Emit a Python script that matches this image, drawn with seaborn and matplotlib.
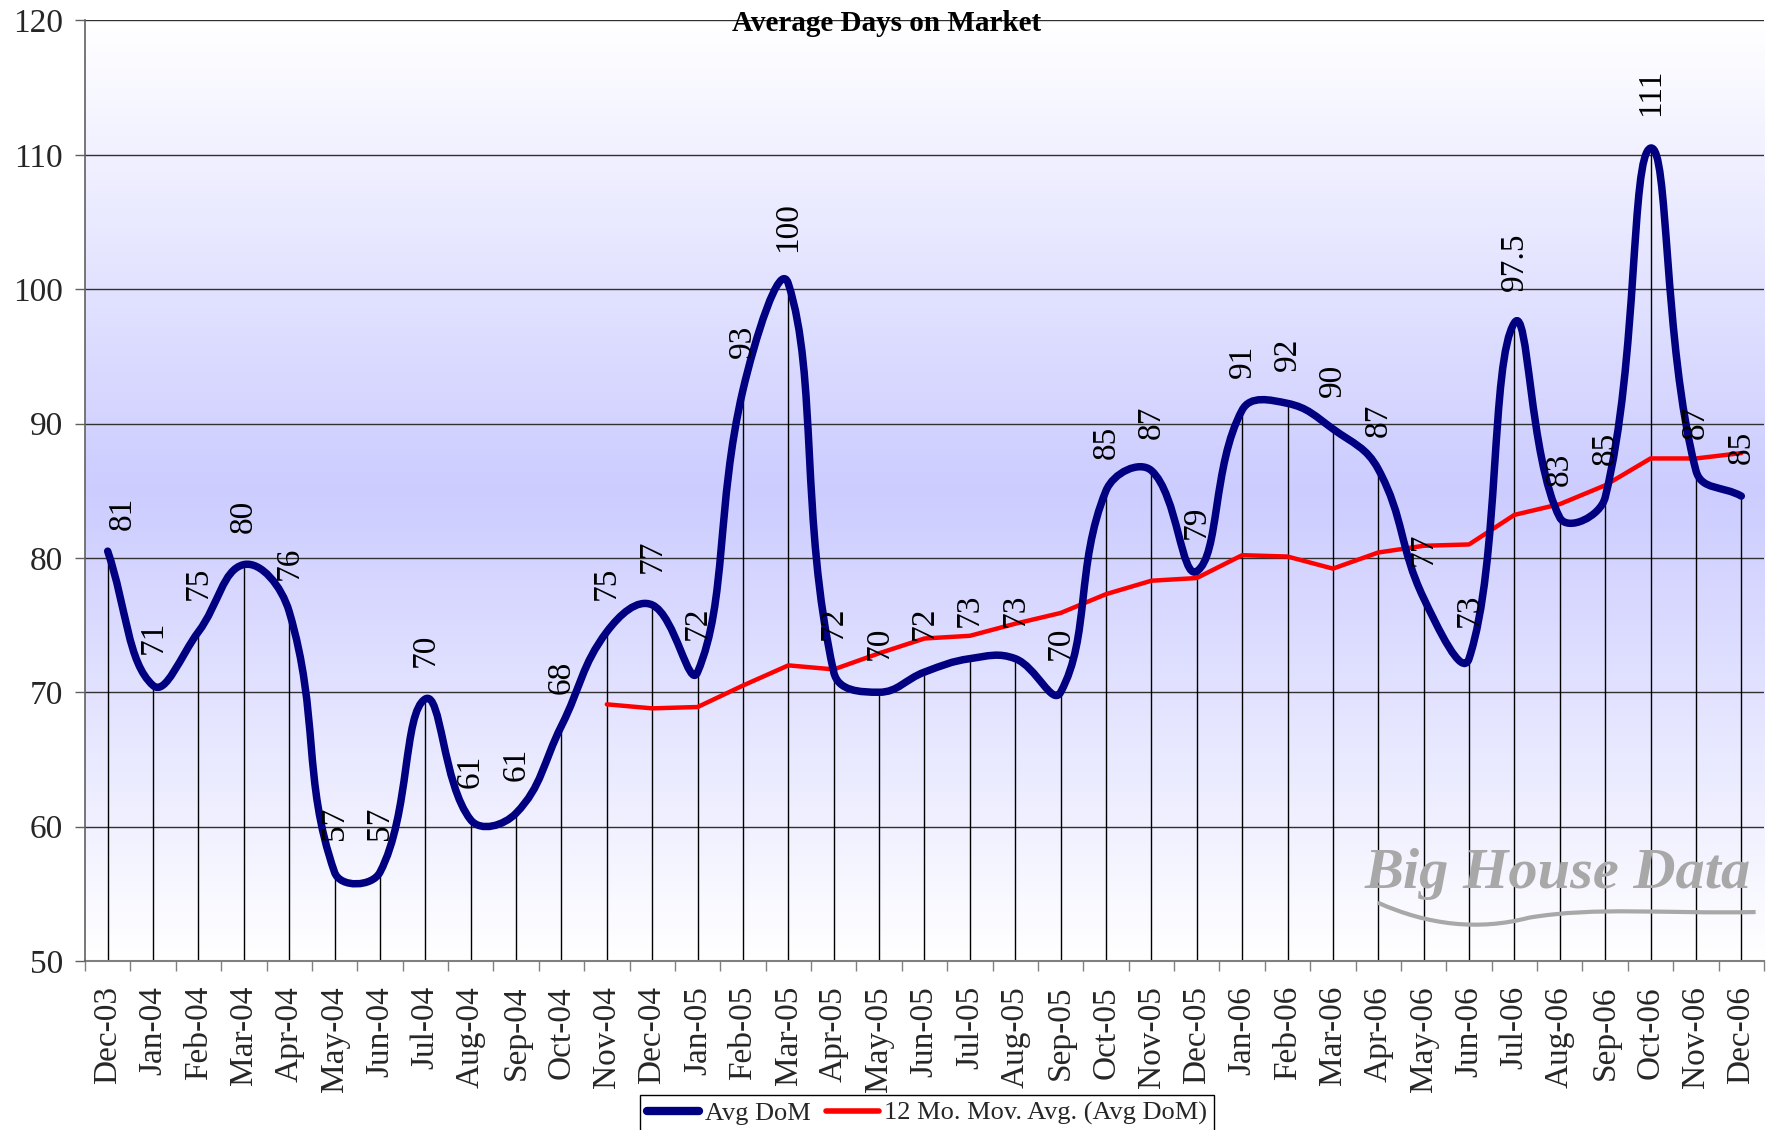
import numpy as np
import matplotlib
matplotlib.use("Agg")
import matplotlib.pyplot as plt
from matplotlib.path import Path
from matplotlib.patches import PathPatch
from matplotlib.lines import Line2D
from matplotlib.colors import LinearSegmentedColormap
import pandas as pd
import seaborn as sns

# --- data ---
months = ["Dec-03", "Jan-04", "Feb-04", "Mar-04", "Apr-04", "May-04", "Jun-04",
          "Jul-04", "Aug-04", "Sep-04", "Oct-04", "Nov-04", "Dec-04", "Jan-05",
          "Feb-05", "Mar-05", "Apr-05", "May-05", "Jun-05", "Jul-05", "Aug-05",
          "Sep-05", "Oct-05", "Nov-05", "Dec-05", "Jan-06", "Feb-06", "Mar-06",
          "Apr-06", "May-06", "Jun-06", "Jul-06", "Aug-06", "Sep-06", "Oct-06",
          "Nov-06", "Dec-06"]
avg_dom = [80.5, 70.5, 74.5, 79.5, 76, 56.6, 56.6, 69.5, 60.5, 61, 67.5, 74.5,
           76.5, 71.5, 92.5, 100.4, 71.5, 70, 71.5, 72.5, 72.5, 70, 85, 86.5, 79,
           91, 91.5, 89.6, 86.6, 77, 72.5, 97.5, 83, 84.5, 110.5, 86.5, 84.6]
dom_labels = ["81", "71", "75", "80", "76", "57", "57", "70", "61", "61", "68",
              "75", "77", "72", "93", "100", "72", "70", "72", "73", "73", "70",
              "85", "87", "79", "91", "92", "90", "87", "77", "73", "97.5", "83",
              "85", "111", "87", "85"]
# 12 month moving average, starts at Nov-04
mov_avg = [69.1, 68.8, 68.9, 70.5, 72.0, 71.7, 72.9, 74.0, 74.2, 75.1, 75.9,
           77.3, 78.3, 78.5, 80.2, 80.1, 79.2, 80.4, 80.9, 81.0, 83.2, 84.0,
           85.4, 87.4, 87.4, 87.8]

NAVY = "#000080"
RED = "#FF0000"
FS = 24

sns.set_theme(style="white")
plt.rcParams["font.family"] = ["Liberation Serif", "DejaVu Serif"]

fig = plt.figure(figsize=(17.67, 11.30), dpi=100)
ax = fig.add_axes([0.0481, 0.1496, 0.9502, 0.8323])

n = len(months)
x = np.arange(n)
y = np.array(avg_dom, dtype=float)

ax.set_xlim(-0.5, n - 0.5)
ax.set_ylim(50, 120)

# gradient background: white at edges, lavender in the middle
cmap = LinearSegmentedColormap.from_list("bg", ["#FFFFFF", "#CCCCFF", "#FFFFFF"])
grad = np.linspace(0, 1, 256).reshape(-1, 1)
ax.imshow(grad, cmap=cmap, aspect="auto", extent=[-0.5, n - 0.5, 50, 120],
          origin="lower", zorder=0, interpolation="bicubic")

# horizontal grid
for g in range(60, 121, 10):
    ax.axhline(g, color="#303030", lw=1.0, zorder=1)

# drop lines
ax.vlines(x, 50, y, color="black", lw=1.0, zorder=1)

# moving average
ma_df = pd.DataFrame({"x": x[n - len(mov_avg):], "y": mov_avg})
sns.lineplot(data=ma_df, x="x", y="y", ax=ax, color=RED, lw=3.2, zorder=3,
             solid_capstyle="round")

# smoothed Avg DoM line, bezier handles scaled by segment length in pixels
pix = ax.transData.transform(np.column_stack([x, y]))
ext = np.vstack([pix[0], pix, pix[-1]])
t = 0.42
verts = [tuple(pix[0])]
codes = [Path.MOVETO]
for i in range(n - 1):
    p0, p1, p2, p3 = ext[i], ext[i + 1], ext[i + 2], ext[i + 3]
    d01 = np.linalg.norm(p1 - p0)
    d12 = np.linalg.norm(p2 - p1)
    d23 = np.linalg.norm(p3 - p2)
    c1 = p1 + (p2 - p0) * t * d12 / max(d01 + d12, 1e-9)
    c2 = p2 - (p3 - p1) * t * d12 / max(d12 + d23, 1e-9)
    verts += [tuple(c1), tuple(c2), tuple(p2)]
    codes += [Path.CURVE4] * 3
verts = ax.transData.inverted().transform(np.array(verts))
ax.add_patch(PathPatch(Path(verts, codes), facecolor="none", edgecolor=NAVY,
                       lw=5.4, capstyle="round", joinstyle="round", zorder=4))

# data labels
for i, (v, lab) in enumerate(zip(avg_dom, dom_labels)):
    off = (11, 15) if i == 0 else (0, 23)
    ax.annotate(lab, (i, v), xytext=off, textcoords="offset points",
                rotation=90, ha="center", va="bottom", fontsize=FS,
                color="black", zorder=5)

# axes styling
for s in ["top", "right"]:
    ax.spines[s].set_visible(False)
ax.spines["left"].set_color("#606060")
ax.spines["bottom"].set_color("#808080")
ax.spines["left"].set_linewidth(1.2)
ax.spines["bottom"].set_linewidth(1.5)
ax.spines["left"].set_zorder(6)

ax.set_yticks(range(50, 121, 10))
ax.tick_params(axis="y", direction="out", length=7, width=1, color="#606060",
               labelsize=FS, pad=9, left=True)
ax.set_xticks(x)
ax.set_xticklabels(months, rotation=90)
ax.set_xticks(np.arange(-0.5, n, 1.0), minor=True)
ax.tick_params(axis="x", which="major", length=0, labelsize=FS, pad=18)
ax.tick_params(axis="x", which="minor", direction="out", length=7, width=1,
               color="#808080", bottom=True)
ax.set_xlabel("")
ax.set_ylabel("")
ax.grid(False)

# title (sits on the top grid line)
fig.text(0.502, 0.9725, "Average Days on Market", ha="center", va="baseline",
         fontsize=21, fontweight="bold", color="black", zorder=0)

# watermark
ax.text(0.762, 0.078, "Big House Data", transform=ax.transAxes, fontsize=42,
        fontstyle="italic", fontweight="bold", color="#A8A8A8", ha="left",
        va="baseline", zorder=2)
wave = Path([(0.770, 0.062), (0.80, 0.038), (0.83, 0.032), (0.86, 0.046),
             (0.90, 0.058), (0.94, 0.050), (0.995, 0.052)],
            [Path.MOVETO, Path.CURVE4, Path.CURVE4, Path.CURVE4,
             Path.CURVE4, Path.CURVE4, Path.CURVE4])
ax.add_patch(PathPatch(wave, transform=ax.transAxes, facecolor="none",
                       edgecolor="#A8A8A8", lw=3, zorder=2))

# legend
handles = [Line2D([0], [0], color=NAVY, lw=6, solid_capstyle="round"),
           Line2D([0], [0], color=RED, lw=4, solid_capstyle="round")]
leg = fig.legend(handles, ["Avg DoM", "12 Mo. Mov. Avg. (Avg DoM)"],
                 loc="upper center", bbox_to_anchor=(0.5246, 0.031), ncol=2,
                 fontsize=19, frameon=True, fancybox=False, framealpha=1,
                 edgecolor="black", handlelength=2.0, handletextpad=0.2,
                 columnspacing=0.6, borderpad=0.25, borderaxespad=0)
leg.get_frame().set_linewidth(1.0)

fig.savefig("out.png", dpi=100)
